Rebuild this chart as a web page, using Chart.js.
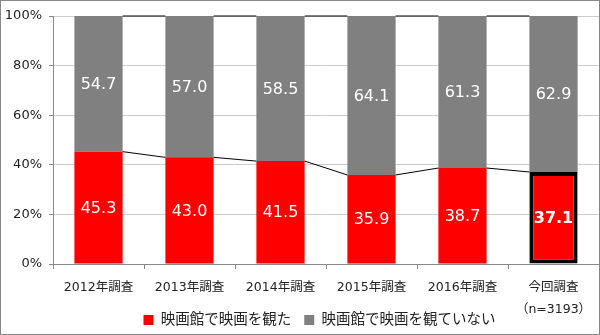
<!DOCTYPE html>
<html>
<head>
<meta charset="utf-8">
<script src="https://cdn.jsdelivr.net/npm/chart.js@4.4.0/dist/chart.umd.min.js"></script>
<style>
  html, body { margin: 0; padding: 0; background: #fff; }
  #wrap { width: 600px; height: 335px; }
</style>
</head>
<body>
<div id="wrap"><canvas id="chart" width="600" height="335"></canvas></div>
<script>
const categories = ["2012年調査", "2013年調査", "2014年調査", "2015年調査", "2016年調査", ["今回調査", "（n=3193）"]];
const watched = [45.3, 43.0, 41.5, 35.9, 38.7, 37.1];
const notWatched = [54.7, 57.0, 58.5, 64.1, 61.3, 62.9];
const yTicks = [0, 20, 40, 60, 80, 100];

const FONT = '"DejaVu Sans", "Noto Sans CJK JP", sans-serif';
const LEGEND_FONT = 14.5;
const LEGEND_PAD = 13;

// series lines between bar tops + labels inside bars
const seriesLines = {
  id: "seriesLines",
  afterLayout(chart) {
    // legend sits beside the 2-line last label, so pull it up a bit
    const lg = chart.legend;
    const h = lg.height;
    lg.top = 320 - LEGEND_PAD - LEGEND_FONT / 2;
    lg.bottom = lg.top + h;
    lg.left += 20;
    lg.right += 20;
  },
  afterDatasetsDraw(chart) {
    const ctx = chart.ctx;
    ctx.save();
    ctx.strokeStyle = "#000";
    ctx.lineWidth = 1;
    chart.data.datasets.forEach((ds, di) => {
      const bars = chart.getDatasetMeta(di).data;
      for (let i = 0; i < bars.length - 1; i++) {
        const a = bars[i], b = bars[i + 1];
        ctx.beginPath();
        ctx.moveTo(a.x + a.width / 2, a.y);
        ctx.lineTo(b.x - b.width / 2, b.y);
        ctx.stroke();
      }
    });
    ctx.textAlign = "center";
    ctx.textBaseline = "middle";
    ctx.fillStyle = "#fff";
    chart.data.datasets.forEach((ds, di) => {
      const bars = chart.getDatasetMeta(di).data;
      bars.forEach((bar, i) => {
        const bold = di === 0 && i === bars.length - 1;
        ctx.font = (bold ? "bold " : "") + "16px " + FONT;
        ctx.fillText(ds.data[i].toFixed(1), bar.x, (bar.y + bar.base) / 2 + 1);
      });
    });
    ctx.restore();
  },
  afterDraw(chart) {
    const ctx = chart.ctx;
    ctx.save();
    ctx.strokeStyle = "#888";
    ctx.lineWidth = 1;
    ctx.strokeRect(0.5, 0.5, chart.width - 1, chart.height - 1);
    ctx.restore();
  }
};

const ctx = document.getElementById("chart").getContext("2d");
new Chart(ctx, {
  type: "bar",
  data: {
    labels: categories,
    datasets: [
      {
        label: "映画館で映画を観た",
        data: watched,
        backgroundColor: "#ff0000",
        borderColor: watched.map((v, i) => i === watched.length - 1 ? "#000" : "#fff"),
        borderWidth: watched.map((v, i) => i === watched.length - 1 ? 4 : 0),
        borderSkipped: false,
      },
      {
        label: "映画館で映画を観ていない",
        data: notWatched,
        backgroundColor: "#808080",
        borderWidth: 0,
      },
    ],
  },
  options: {
    responsive: false,
    animation: false,
    layout: { padding: { top: 16, right: 1, left: 0, bottom: -18.5 } },
    datasets: { bar: { categoryPercentage: 1, barPercentage: 0.53 } },
    scales: {
      x: {
        stacked: true,
        afterFit(scale) { scale.height = 52; },
        grid: { drawOnChartArea: false, tickLength: 5, color: "#888", offset: true },
        border: { color: "#888" },
        ticks: { color: "#222", font: { family: FONT, size: 12.5, lineHeight: 1.75 }, padding: 8, maxRotation: 0 },
      },
      y: {
        stacked: true,
        min: 0,
        max: 100,
        afterFit(scale) { scale.width = 53; },
        afterBuildTicks(scale) { scale.ticks = yTicks.map(v => ({ value: v })); },
        grid: { color: "#cccccc", tickColor: "#888", tickLength: 4 },
        border: { color: "#888" },
        ticks: { color: "#222", font: { family: FONT, size: 13 }, padding: 7, callback: v => v + "%" },
      },
    },
    plugins: {
      legend: {
        position: "bottom",
        labels: {
          boxWidth: 10,
          boxHeight: 10,
          padding: LEGEND_PAD,
          color: "#222",
          font: { family: FONT, size: LEGEND_FONT },
        },
      },
      tooltip: { enabled: false },
    },
  },
  plugins: [seriesLines],
});
</script>
</body>
</html>
